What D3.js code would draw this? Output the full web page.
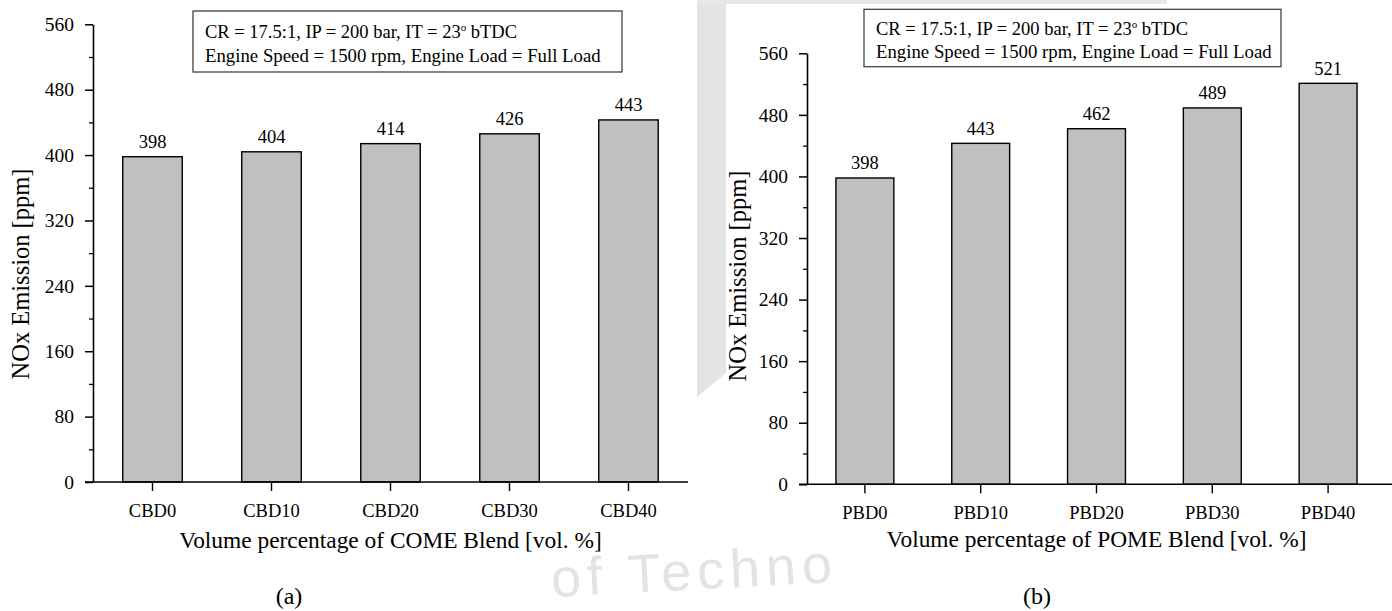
<!DOCTYPE html>
<html>
<head>
<meta charset="utf-8">
<script src="https://cdn.jsdelivr.net/npm/d3@7"></script>
<style>
  html, body { margin: 0; padding: 0; background: #fff; }
  svg { display: block; }
  text { font-family: "Liberation Serif", "Times New Roman", serif; fill: #000; }
</style>
</head>
<body>
<svg id="fig" width="1392" height="611"></svg>
<script>
// NOx emission for COME and POME blends
const categoriesA = ["CBD0", "CBD10", "CBD20", "CBD30", "CBD40"];
const valuesA = [398, 404, 414, 426, 443];
const categoriesB = ["PBD0", "PBD10", "PBD20", "PBD30", "PBD40"];
const valuesB = [398, 443, 462, 489, 521];
const majorTicks = [0, 80, 160, 240, 320, 400, 480, 560];
const minorTicks = [40, 120, 200, 280, 360, 440, 520];
const yLabel = "NOx Emission [ppm]";
const xLabelA = "Volume percentage of COME Blend [vol. %]";
const xLabelB = "Volume percentage of POME Blend [vol. %]";
const panelTags = ["(a)", "(b)"];

const svg = d3.select("#fig");

// faint background shapes behind the two panels
const wm = svg.append("g");
wm.append("polygon")
  .attr("points", "697,0 726,0 726,373 697,397")
  .attr("fill", "#e4e4e4");
wm.append("rect")
  .attr("x", 697).attr("y", 0).attr("width", 470).attr("height", 4)
  .attr("fill", "#e8e8e8");

function drawPanel(cfg) {
  const g = svg.append("g");
  g.append("rect")
    .attr("x", cfg.bg[0]).attr("y", cfg.bg[1])
    .attr("width", cfg.bg[2]).attr("height", cfg.bg[3])
    .attr("fill", "#fff");

  const y = d3.scaleLinear().domain([0, 560]).range([cfg.y0, cfg.y560]);
  const x = d3.scaleBand().domain(cfg.categories)
    .range([cfg.xLeft, cfg.xRight]).paddingInner(0.5).paddingOuter(0.25);

  // bars
  g.selectAll("rect.bar").data(cfg.values).join("rect")
    .attr("class", "bar")
    .attr("x", (d, i) => x(cfg.categories[i]))
    .attr("y", d => y(d))
    .attr("width", x.bandwidth())
    .attr("height", d => y(0) - y(d))
    .attr("fill", "#c0c0c0")
    .attr("stroke", "#000")
    .attr("stroke-width", 1.4);

  // value labels
  g.selectAll("text.val").data(cfg.values).join("text")
    .attr("class", "val")
    .attr("x", (d, i) => x(cfg.categories[i]) + x.bandwidth() / 2)
    .attr("y", d => y(d) - 8.5)
    .attr("text-anchor", "middle")
    .style("font-size", "18.5px")
    .text(d => d);

  // y axis: labelled major ticks plus short minor ticks
  const yAxis = g.append("g")
    .attr("transform", `translate(${cfg.xLeft},0)`)
    .call(d3.axisLeft(y).tickValues(majorTicks).tickSize(8).tickPadding(11).tickSizeOuter(0));
  yAxis.select(".domain").attr("stroke-width", 1.6);
  yAxis.selectAll(".tick line").attr("stroke-width", 1.5);
  yAxis.selectAll(".tick text").style("font-size", "19.5px")
    .style("font-family", "'Liberation Serif', 'Times New Roman', serif");
  const yMinor = g.append("g")
    .attr("transform", `translate(${cfg.xLeft},0)`)
    .call(d3.axisLeft(y).tickValues(minorTicks).tickSize(4).tickFormat(""));
  yMinor.select(".domain").remove();
  yMinor.selectAll(".tick line").attr("stroke-width", 1.3);

  // x axis
  const xAxis = g.append("g")
    .attr("transform", `translate(0,${cfg.y0})`)
    .call(d3.axisBottom(x).tickSize(9).tickPadding(13).tickSizeOuter(0));
  xAxis.select(".domain").remove();
  xAxis.append("line")
    .attr("x1", cfg.xLeft - 8).attr("x2", cfg.xAxisEnd)
    .attr("y1", 0).attr("y2", 0)
    .attr("stroke", "#000").attr("stroke-width", 1.6);
  xAxis.selectAll(".tick line").attr("stroke-width", 1.4);
  xAxis.selectAll(".tick text").style("font-size", "18.5px")
    .style("font-family", "'Liberation Serif', 'Times New Roman', serif");

  // axis titles
  g.append("text")
    .attr("transform", `translate(${cfg.yTitleX},${cfg.yTitleY}) rotate(-90)`)
    .attr("text-anchor", "middle")
    .style("font-size", "24.5px")
    .text(yLabel);
  g.append("text")
    .attr("x", (cfg.xLeft + cfg.xRight) / 2 + cfg.xTitleShift)
    .attr("y", cfg.xTitleY)
    .attr("text-anchor", "middle")
    .style("font-size", "23.4px")
    .text(cfg.xLabel);

  // condition box
  const lg = g.append("g");
  lg.append("rect")
    .attr("x", cfg.box[0]).attr("y", cfg.box[1])
    .attr("width", cfg.box[2]).attr("height", cfg.box[3])
    .attr("fill", "#fff").attr("stroke", "#333").attr("stroke-width", 1.2);
  const l1 = lg.append("text")
    .attr("x", cfg.box[0] + 12).attr("y", cfg.boxLines[0])
    .style("font-size", "18.5px");
  l1.append("tspan").text("CR = 17.5:1, IP = 200 bar, IT = 23");
  l1.append("tspan").attr("dy", -7).style("font-size", "11px").text("o");
  l1.append("tspan").attr("dy", 7).text(" bTDC");
  lg.append("text")
    .attr("x", cfg.box[0] + 12).attr("y", cfg.boxLines[1])
    .style("font-size", "18.8px")
    .text("Engine Speed = 1500 rpm, Engine Load = Full Load");

  // panel tag
  g.append("text")
    .attr("x", cfg.tagX).attr("y", 604)
    .attr("text-anchor", "middle")
    .style("font-size", "24px")
    .text(cfg.tag);
}

drawPanel({
  categories: categoriesA, values: valuesA, xLabel: xLabelA, tag: panelTags[0],
  bg: [0, 0, 697, 556],
  xLeft: 93, xRight: 688, xAxisEnd: 688, y0: 482, y560: 24.3,
  yTitleX: 29, yTitleY: 274, xTitleY: 548, xTitleShift: 0,
  box: [193, 11, 429, 61], boxLines: [38, 62],
  tagX: 289
});

drawPanel({
  categories: categoriesB, values: valuesB, xLabel: xLabelB, tag: panelTags[1],
  bg: [726, 4, 666, 548],
  xLeft: 807, xRight: 1386, xAxisEnd: 1392, y0: 484.3, y560: 53.3,
  yTitleX: 746, yTitleY: 276, xTitleY: 547, xTitleShift: 0,
  box: [864, 9.3, 417, 57.4], boxLines: [35, 57.5],
  tagX: 1037
});

// light watermark lettering along the bottom edge
svg.append("text")
  .attr("x", 552).attr("y", 597)
  .attr("transform", "rotate(-3,552,597)")
  .style("font-family", "'Liberation Sans', Arial, sans-serif")
  .style("font-size", "54px")
  .style("letter-spacing", "6px")
  .style("fill", "#e3e3e3")
  .text("of Techno");
</script>
</body>
</html>
